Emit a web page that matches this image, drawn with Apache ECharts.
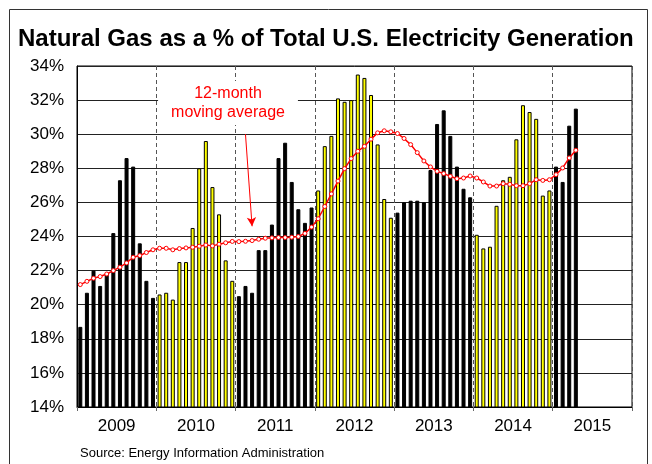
<!DOCTYPE html>
<html>
<head>
<meta charset="utf-8">
<script src="https://cdn.jsdelivr.net/npm/echarts@6/dist/echarts.min.js"></script>
<style>
  html, body { margin: 0; padding: 0; background: #fff; }
  #main { width: 652px; height: 464px; }
</style>
</head>
<body>
<div id="main"></div>
<script>
var years = ['2009', '2010', '2011', '2012', '2013', '2014', '2015'];

// monthly share of natural gas, Jan 2009 - Apr 2015 (%)
var gasShare = [
    18.7, 20.7, 22.0, 21.1, 21.8, 24.2, 27.3, 28.6, 28.1, 23.6, 21.4, 20.4,
    20.6, 20.7, 20.3, 22.5, 22.5, 24.5, 28.0, 29.6, 26.9, 25.3, 22.6, 21.4,
    20.5, 21.1, 20.7, 23.2, 23.2, 24.7, 28.6, 29.5, 27.2, 25.6, 24.8, 25.7,
    26.7, 29.3, 29.9, 32.1, 31.9, 32.0, 33.5, 33.3, 32.3, 29.4, 26.2, 25.1,
    25.4, 26.0, 26.1, 26.1, 26.0, 27.9, 30.6, 31.4, 29.9, 28.1, 26.8, 26.3,
    24.1, 23.3, 23.4, 25.8, 27.3, 27.5, 29.7, 31.7, 31.3, 30.9, 26.4, 26.7,
    28.1, 27.2, 30.5, 31.5
];

// 12-month moving average (%)
var movingAvg = [
    21.18, 21.37, 21.55, 21.65, 21.8, 22.0, 22.2, 22.45, 22.78, 22.88, 23.06, 23.22,
    23.31, 23.31, 23.22, 23.29, 23.33, 23.37, 23.43, 23.5, 23.45, 23.55, 23.63, 23.71,
    23.7, 23.72, 23.76, 23.84, 23.9, 23.92, 23.94, 23.94, 23.96, 24.0, 24.18, 24.55,
    25.04, 25.76, 26.5, 27.25, 27.98, 28.57, 29.0, 29.29, 29.71, 30.08, 30.2, 30.14,
    30.04, 29.75, 29.39, 28.92, 28.43, 28.08, 27.82, 27.69, 27.53, 27.39, 27.43, 27.55,
    27.43, 27.2, 26.96, 26.96, 27.1, 27.06, 26.98, 26.98, 27.1, 27.33, 27.29, 27.33,
    27.63, 28.02, 28.61, 29.06
];

var yTicks = [14, 16, 18, 20, 22, 24, 26, 28, 30, 32, 34];

var meses = [];
for (var i = 0; i < years.length; i++) {
    for (var m = 1; m <= 12; m++) {
        meses.push(years[i] + '-' + (m < 10 ? '0' + m : m));
    }
}

var fuente = 'Liberation Sans, Arial, sans-serif';

var myChart = echarts.init(document.getElementById('main'), null, {renderer: 'canvas'});
myChart.setOption({
    animation: false,
    backgroundColor: '#fff',
    title: {
        text: 'Natural Gas as a % of Total U.S. Electricity Generation',
        left: 13,
        top: 22,
        textStyle: {fontFamily: fuente, fontSize: 24, fontWeight: 'bold', color: '#000'}
    },
    graphic: [{
            type: 'rect',
            shape: {x: 9.5, y: 9.5, width: 638, height: 480},
            style: {fill: 'none', stroke: '#333', lineWidth: 1},
            silent: true
        }, {
            type: 'text',
            x: 228,
            y: 103,
            z: 50,
            style: {
                text: '12-month\nmoving average',
                align: 'center',
                verticalAlign: 'middle',
                fill: '#ff0000',
                font: '16px ' + fuente,
                lineHeight: 19,
                backgroundColor: '#fff',
                padding: [3, 13, 3, 13]
            }
        }, {
            type: 'text',
            x: 80,
            y: 453,
            style: {
                text: 'Source: Energy Information Administration',
                verticalAlign: 'middle',
                fill: '#000',
                font: '13px ' + fuente
            }
        }],
    grid: {
        left: 77,
        right: 20,
        top: 66,
        bottom: 57,
        show: true,
        borderColor: '#000',
        borderWidth: 1
    },
    xAxis: [{
            type: 'category',
            data: meses,
            position: 'bottom',
            axisLine: {show: true, lineStyle: {color: '#000'}},
            axisTick: {show: false},
            axisLabel: {show: false},
            splitLine: {show: false}
        }, {
            type: 'category',
            data: years,
            position: 'bottom',
            axisLine: {show: false},
            axisTick: {show: true, length: 4, lineStyle: {color: '#666'}},
            axisLabel: {fontFamily: fuente, fontSize: 17, color: '#000', margin: 11},
            splitLine: {
                show: true,
                interval: function (index) {
                    return index > 0;
                },
                lineStyle: {color: '#555', type: [4, 3], width: 1}
            }
        }],
    yAxis: [{
            type: 'value',
            min: yTicks[0],
            max: yTicks[yTicks.length - 1],
            interval: 2,
            axisLine: {show: true, lineStyle: {color: '#000'}},
            axisTick: {show: false},
            axisLabel: {
                formatter: '{value}%',
                fontFamily: fuente,
                fontSize: 17,
                color: '#000',
                margin: 13
            },
            splitLine: {show: true, lineStyle: {color: '#222', width: 1}}
        }],
    series: [{
            name: 'Natural gas share',
            type: 'bar',
            xAxisIndex: 0,
            data: gasShare,
            barWidth: 4,
            itemStyle: {
                color: function (p) {
                    return Math.floor(p.dataIndex / 12) % 2 === 1 ? '#ffff00' : '#000';
                },
                borderColor: '#000',
                borderWidth: 1
            },
            z: 2
        }, {
            name: '12-month moving average',
            type: 'line',
            xAxisIndex: 0,
            data: movingAvg,
            symbol: 'circle',
            symbolSize: 4,
            showAllSymbol: true,
            lineStyle: {color: '#ff0000', width: 1.5},
            itemStyle: {color: '#fff', borderColor: '#ff0000', borderWidth: 1},
            z: 5,
            markLine: {
                silent: true,
                symbol: ['none', 'arrow'],
                symbolSize: [7, 9],
                label: {show: false},
                lineStyle: {color: '#ff0000', width: 1, type: 'solid'},
                data: [[{coord: [meses[25], 30.0]}, {coord: [meses[26], 24.6]}]]
            }
        }]
});
</script>
</body>
</html>
